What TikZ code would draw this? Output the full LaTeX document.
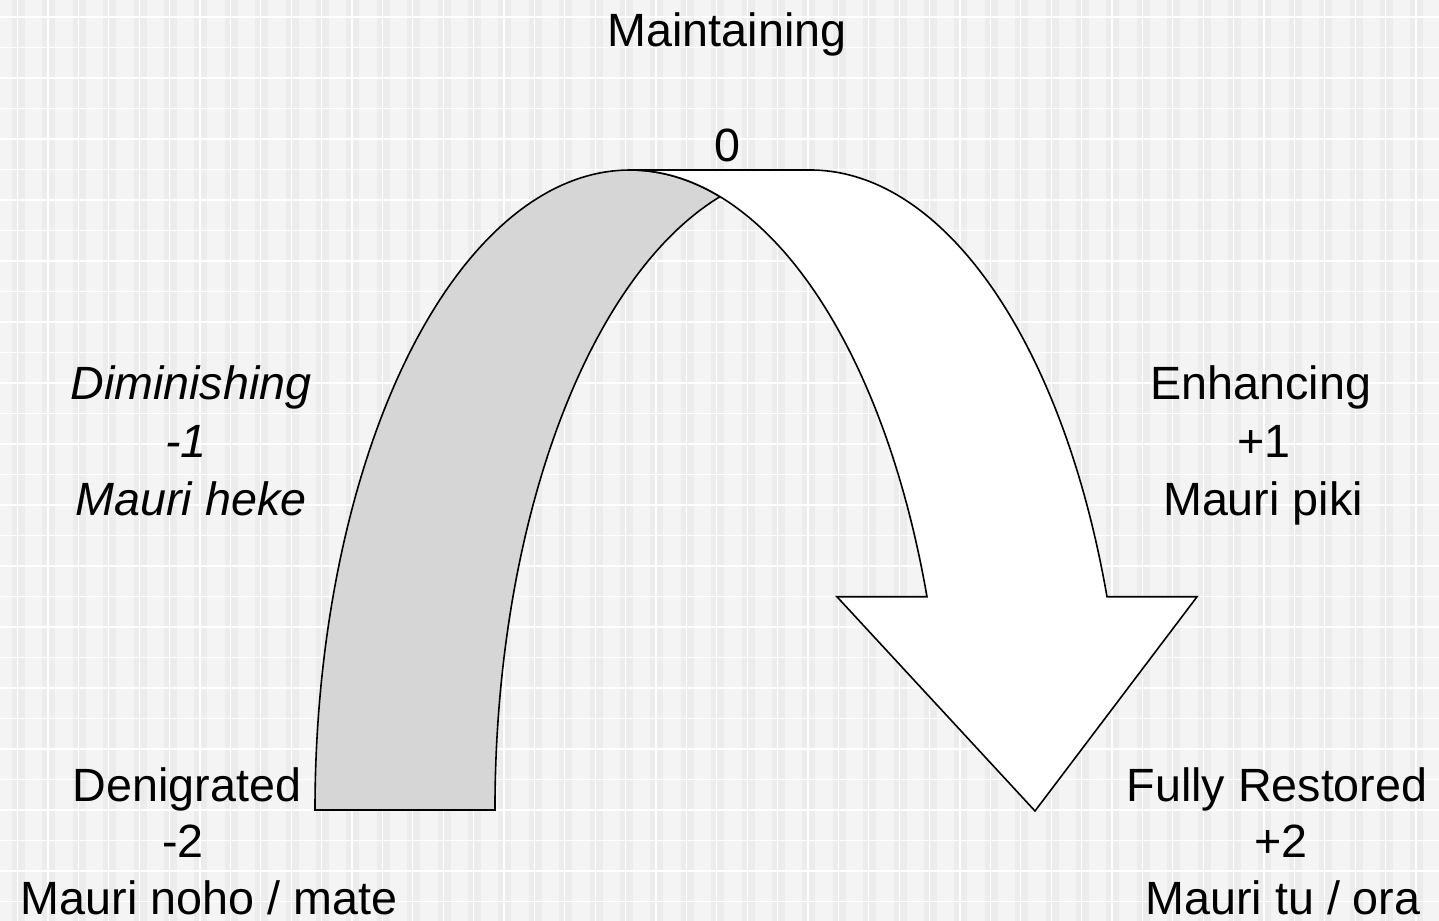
\documentclass[tikz,border=0pt]{standalone}
\usepackage{fontspec}
\setmainfont{Liberation Sans}
\definecolor{bgcol}{HTML}{F4F4F4}
\definecolor{stripecol}{HTML}{ECECEC}
\definecolor{bandcol}{HTML}{D6D6D6}
\tikzset{
  lbl/.style={anchor=base, inner sep=0pt, font=\fontsize{35}{43}\selectfont},
  ilbl/.style={lbl, font=\fontsize{35}{43}\selectfont\itshape},
  shapeline/.style={draw=black, line width=1.2pt, line join=miter},
}
\begin{document}
\begin{tikzpicture}[x=0.75pt, y=0.75pt]
\useasboundingbox (0,0) rectangle (1439,921);
% background
\fill[bgcol] (0,0) rectangle (1439,921);
\foreach \i in {0,...,47} {
  \fill[stripecol] ({12+30.4*\i},0) rectangle ++(13,921);
  \draw[white, line width=0.8pt] ({17.6+30.4*\i},0) -- ++(0,921);
}
\foreach \j in {0,...,30} {
  \draw[white, line width=0.8pt] (0,{921-17-30.5*\j}) -- ++(1439,0);
}
% gray band (left part of curved arrow)
\path[shapeline, fill=bandcol] (315,111)
  arc[start angle=180, end angle=73.4, x radius=236.25pt, y radius=480pt]
  arc[start angle=106.6, end angle=180, x radius=236.25pt, y radius=480pt]
  -- cycle;
% white arrow
\path[shapeline, fill=white] (630,751) -- (810,751)
  arc[start angle=90, end angle=19.46, x radius=236.25pt, y radius=480pt]
  -- (1197,324.2) -- (1035,110) -- (837,324.2) -- (927,324.2)
  arc[start angle=19.46, end angle=90, x radius=236.25pt, y radius=480pt]
  -- cycle;
% labels
\node[lbl] (maint) at (727,874) {Maintaining};
\node[lbl] (zero) at (727,759) {0};
\node[ilbl] (dim1) at (191,521) {Diminishing};
\node[ilbl] (dim2) at (186,463) {-1};
\node[ilbl] (dim3) at (191,405) {Mauri heke};
\node[lbl] (enh1) at (1261,521) {Enhancing};
\node[lbl] (enh2) at (1264,463) {+1};
\node[lbl] (enh3) at (1263,405) {Mauri piki};
\node[lbl] (den1) at (187,119) {Denigrated};
\node[lbl] (den2) at (183,63) {-2};
\node[lbl] (den3) at (209,6) {Mauri noho / mate};
\node[lbl] (ful1) at (1277,119) {Fully Restored};
\node[lbl] (ful2) at (1281,63) {+2};
\node[lbl] (ful3) at (1283,6) {Mauri tu / ora};
\end{tikzpicture}
\end{document}
